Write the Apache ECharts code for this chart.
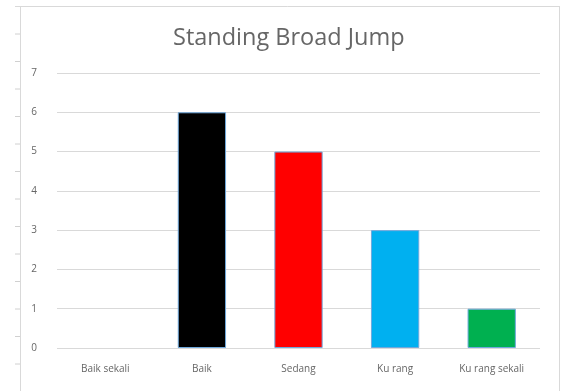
<!DOCTYPE html>
<html>
<head>
<meta charset="utf-8">
<script src="https://cdn.jsdelivr.net/npm/echarts@6/dist/echarts.min.js"></script>
<style>
html, body { margin: 0; padding: 0; background: #fff; }
#chart { width: 562px; height: 391px; }
</style>
</head>
<body>
<div id="chart"></div>
<script>
var categories = ['Baik sekali', 'Baik', 'Sedang', 'Ku rang', 'Ku rang sekali'];
var values = [0, 6, 5, 3, 1];
var barColors = ['#000000', '#000000', '#ff0000', '#00b0f0', '#00b050'];
var yTicks = [0, 1, 2, 3, 4, 5, 6, 7];

// 左侧装饰刻度（类似标尺）
var rulerMarks = [];
for (var i = 0; i < 14; i++) {
	rulerMarks.push({
		type: 'line',
		shape: { x1: 15, y1: 34 + i * 27.5, x2: 20, y2: 34 + i * 27.5 },
		style: { stroke: '#d0d0d0', lineWidth: 1 }
	});
}

var myChart = echarts.init(document.getElementById('chart'));
var option = {
	backgroundColor: '#ffffff',
	title: {
		text: 'Standing Broad Jump',
		left: 168,
		top: 21,
		textStyle: { fontFamily: 'Open Sans', fontWeight: 'normal', fontSize: 23.5, color: '#666666' }
	},
	grid: { left: 57, right: 22, top: 73, bottom: 43 },
	xAxis: {
		type: 'category',
		data: categories,
		axisLine: { show: false },
		axisTick: { show: false },
		axisLabel: { color: '#666666', fontSize: 10, fontFamily: 'Open Sans', margin: 16 }
	},
	yAxis: {
		type: 'value',
		min: yTicks[0],
		max: yTicks[yTicks.length - 1],
		interval: 1,
		axisLine: { show: false },
		axisTick: { show: false },
		axisLabel: { color: '#666666', fontSize: 10, fontFamily: 'Open Sans', margin: 20 },
		splitLine: { lineStyle: { color: '#d9d9d9', width: 1 } }
	},
	series: [{
		type: 'bar',
		barWidth: '50%',
		data: values.map(function(v, i) {
			return {
				value: v,
				itemStyle: { color: barColors[i], borderWidth: v === 0 ? 0 : 1 }
			};
		}),
		itemStyle: { borderColor: '#6fa8dc', borderWidth: 1 }
	}],
	graphic: [
		{ type: 'line', shape: { x1: 15, y1: 6.5, x2: 559.5, y2: 6.5 }, style: { stroke: '#d9d9d9', lineWidth: 1 } },
		{ type: 'line', shape: { x1: 20.5, y1: 6, x2: 20.5, y2: 391 }, style: { stroke: '#d9d9d9', lineWidth: 1 } },
		{ type: 'line', shape: { x1: 559.5, y1: 6, x2: 559.5, y2: 391 }, style: { stroke: '#d9d9d9', lineWidth: 1 } }
	].concat(rulerMarks)
};
myChart.setOption(option);
</script>
</body>
</html>
